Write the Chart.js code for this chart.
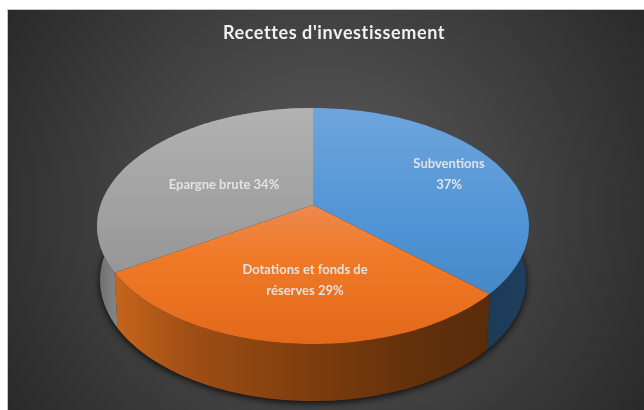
<!DOCTYPE html>
<html>
<head>
<meta charset="utf-8">
<style>
  html, body { margin: 0; background: #fff; }
  #wrap { width: 644px; height: 410px; }
</style>
<script src="https://cdn.jsdelivr.net/npm/chart.js@4"></script>
</head>
<body>
<div id="wrap"><canvas id="chart" width="644" height="410"></canvas></div>
<script>
// Chart data
const categories = ['Subventions', 'Dotations et fonds de réserves', 'Epargne brute'];
const shares = [37, 29, 34];
const chartTitle = "Recettes d'investissement";

// Data label text, one line per entry, and where the reference puts it
const labelLines = [['Subventions', '37%'], ['Dotations et fonds de', 'réserves 29%'], ['Epargne brute 34%']];
const labelSpots = [[449, 174], [305, 280], [224, 185]];

// Perspective of the top face, in units of the pie radius given by Chart.js
const BASE_R = 154.6;
const TILT = -0.178;
const SPREAD_X = 212.5 / BASE_R;
const SPREAD_Y = 114.3 / BASE_R;
const RIM = { dy: 21 / BASE_R, rx: 216 / BASE_R, ry: 118 / BASE_R };
const FOOT = { dy: 75 / BASE_R, rx: 213 / BASE_R, ry: 121 / BASE_R };

const canvas = document.getElementById('chart');
const ctx2d = canvas.getContext('2d');

function verticalFill(stops) {
    const g = ctx2d.createLinearGradient(0, 108, 0, 344);
    stops.forEach(([at, color]) => g.addColorStop(at, color));
    return g;
}

function sideFill(x0, x1, stops) {
    const g = ctx2d.createLinearGradient(x0, 0, x1, 0);
    stops.forEach(([at, color]) => g.addColorStop(at, color));
    return g;
}

const topFills = [
    verticalFill([[0, '#6fa5dc'], [0.5, '#4f94d6'], [1, '#3f80bd']]),
    verticalFill([[0.4, '#ee8a50'], [0.62, '#f07a28'], [1, '#e3691a']]),
    verticalFill([[0, '#b2b2b2'], [1, '#8a8a8a']])
];
const sideFills = [
    sideFill(490, 530, [[0, '#1d3a56'], [1, '#1f3f5e']]),
    sideFill(115, 493, [[0, '#c5651c'], [0.2, '#a04e14'], [0.55, '#7a3b0d'], [0.8, '#62300b'], [1, '#5a2b0a']]),
    sideFill(97, 120, [[0, '#6c6c6c'], [1, '#8a8a8a']])
];

// Point on the top face for a slice angle, frac = 1 is the rim
function project(arc, angle, frac) {
    const r = arc.outerRadius;
    const u = Math.cos(angle) * frac;
    const v = Math.sin(angle) * frac;
    const w = 1 + TILT * v;
    return { x: arc.x + r * SPREAD_X * u / w, y: arc.y + r * SPREAD_Y * v / w };
}

// Same rim point carried down to the bottom edge of the wall
function drop(arc, p) {
    const r = arc.outerRadius;
    const c = (p.x - arc.x) / (r * RIM.rx);
    const s = (p.y - (arc.y + r * RIM.dy)) / (r * RIM.ry);
    return { x: arc.x + r * FOOT.rx * c, y: arc.y + r * FOOT.dy + r * FOOT.ry * s };
}

function rimPoints(arc) {
    const pts = [];
    const steps = 90;
    for (let i = 0; i <= steps; i++) {
        pts.push(project(arc, arc.startAngle + (arc.endAngle - arc.startAngle) * i / steps, 1));
    }
    return pts;
}

// Slices are drawn as the tilted top face
Chart.ArcElement.prototype.draw = function (ctx) {
    const pts = rimPoints(this);
    ctx.save();
    ctx.beginPath();
    ctx.moveTo(this.x, this.y);
    pts.forEach(p => ctx.lineTo(p.x, p.y));
    ctx.closePath();
    ctx.fillStyle = this.options.backgroundColor;
    ctx.fill();
    ctx.restore();
};

const panelPlugin = {
    id: 'panel',
    // the title sits right of the pie centre in the reference
    afterLayout(chart) {
        chart.titleBlock.left += 21;
        chart.titleBlock.right += 21;
    },
    beforeDraw(chart) {
        const ctx = chart.ctx;
        const g = ctx.createRadialGradient(326, 210, 0, 326, 210, 390);
        g.addColorStop(0, '#5c5c5c');
        g.addColorStop(1, '#282828');
        ctx.save();
        ctx.fillStyle = '#c4c4c4';
        ctx.fillRect(7, 9, 637, 401);
        ctx.fillStyle = g;
        ctx.fillRect(8, 10, 636, 400);
        ctx.restore();
        ctx.letterSpacing = '0.6px';
    }
};

// Wall and shadow under the slices
const wallPlugin = {
    id: 'wall',
    beforeDatasetsDraw(chart) {
        const ctx = chart.ctx;
        const arcs = chart.getDatasetMeta(0).data;
        const first = arcs[0];
        const r = first.outerRadius;
        ctx.save();
        ctx.shadowColor = 'rgba(0,0,0,0.85)';
        ctx.shadowBlur = 7;
        ctx.shadowOffsetY = 2;
        ctx.fillStyle = '#222';
        ctx.beginPath();
        ctx.ellipse(first.x, first.y + r * FOOT.dy, r * FOOT.rx, r * FOOT.ry, 0, 0, Math.PI * 2);
        ctx.fill();
        ctx.restore();

        arcs.forEach((arc, i) => {
            const pts = rimPoints(arc);
            const low = pts.map(p => drop(arc, p)).reverse();
            ctx.save();
            ctx.beginPath();
            pts.concat(low).forEach((p, n) => n ? ctx.lineTo(p.x, p.y) : ctx.moveTo(p.x, p.y));
            ctx.closePath();
            ctx.fillStyle = sideFills[i];
            ctx.fill();
            ctx.restore();
        });
    }
};

const labelPlugin = {
    id: 'sliceLabels',
    afterDatasetsDraw(chart) {
        const ctx = chart.ctx;
        ctx.save();
        ctx.letterSpacing = '0px';
        ctx.font = 'bold 13px Lato';
        ctx.fillStyle = '#e2e2e2';
        ctx.textAlign = 'center';
        ctx.textBaseline = 'middle';
        labelLines.forEach((lines, i) => {
            const [x, y] = labelSpots[i];
            lines.forEach((line, n) => {
                ctx.fillText(line, x, y + (n - (lines.length - 1) / 2) * 21);
            });
        });
        ctx.restore();
    }
};

new Chart(canvas, {
    type: 'pie',
    data: {
        labels: categories,
        datasets: [{
            data: shares,
            backgroundColor: topFills,
            borderWidth: 0
        }]
    },
    options: {
        responsive: false,
        animation: false,
        layout: { padding: { right: 18, bottom: 50.4 } },
        plugins: {
            legend: { display: false },
            tooltip: { enabled: false },
            title: {
                display: true,
                text: chartTitle,
                color: '#f0f0f0',
                font: { family: 'Lato', size: 18, weight: 'bold' },
                padding: { top: 22, bottom: 6.8 }
            }
        }
    },
    plugins: [panelPlugin, wallPlugin, labelPlugin]
});
</script>
</body>
</html>
